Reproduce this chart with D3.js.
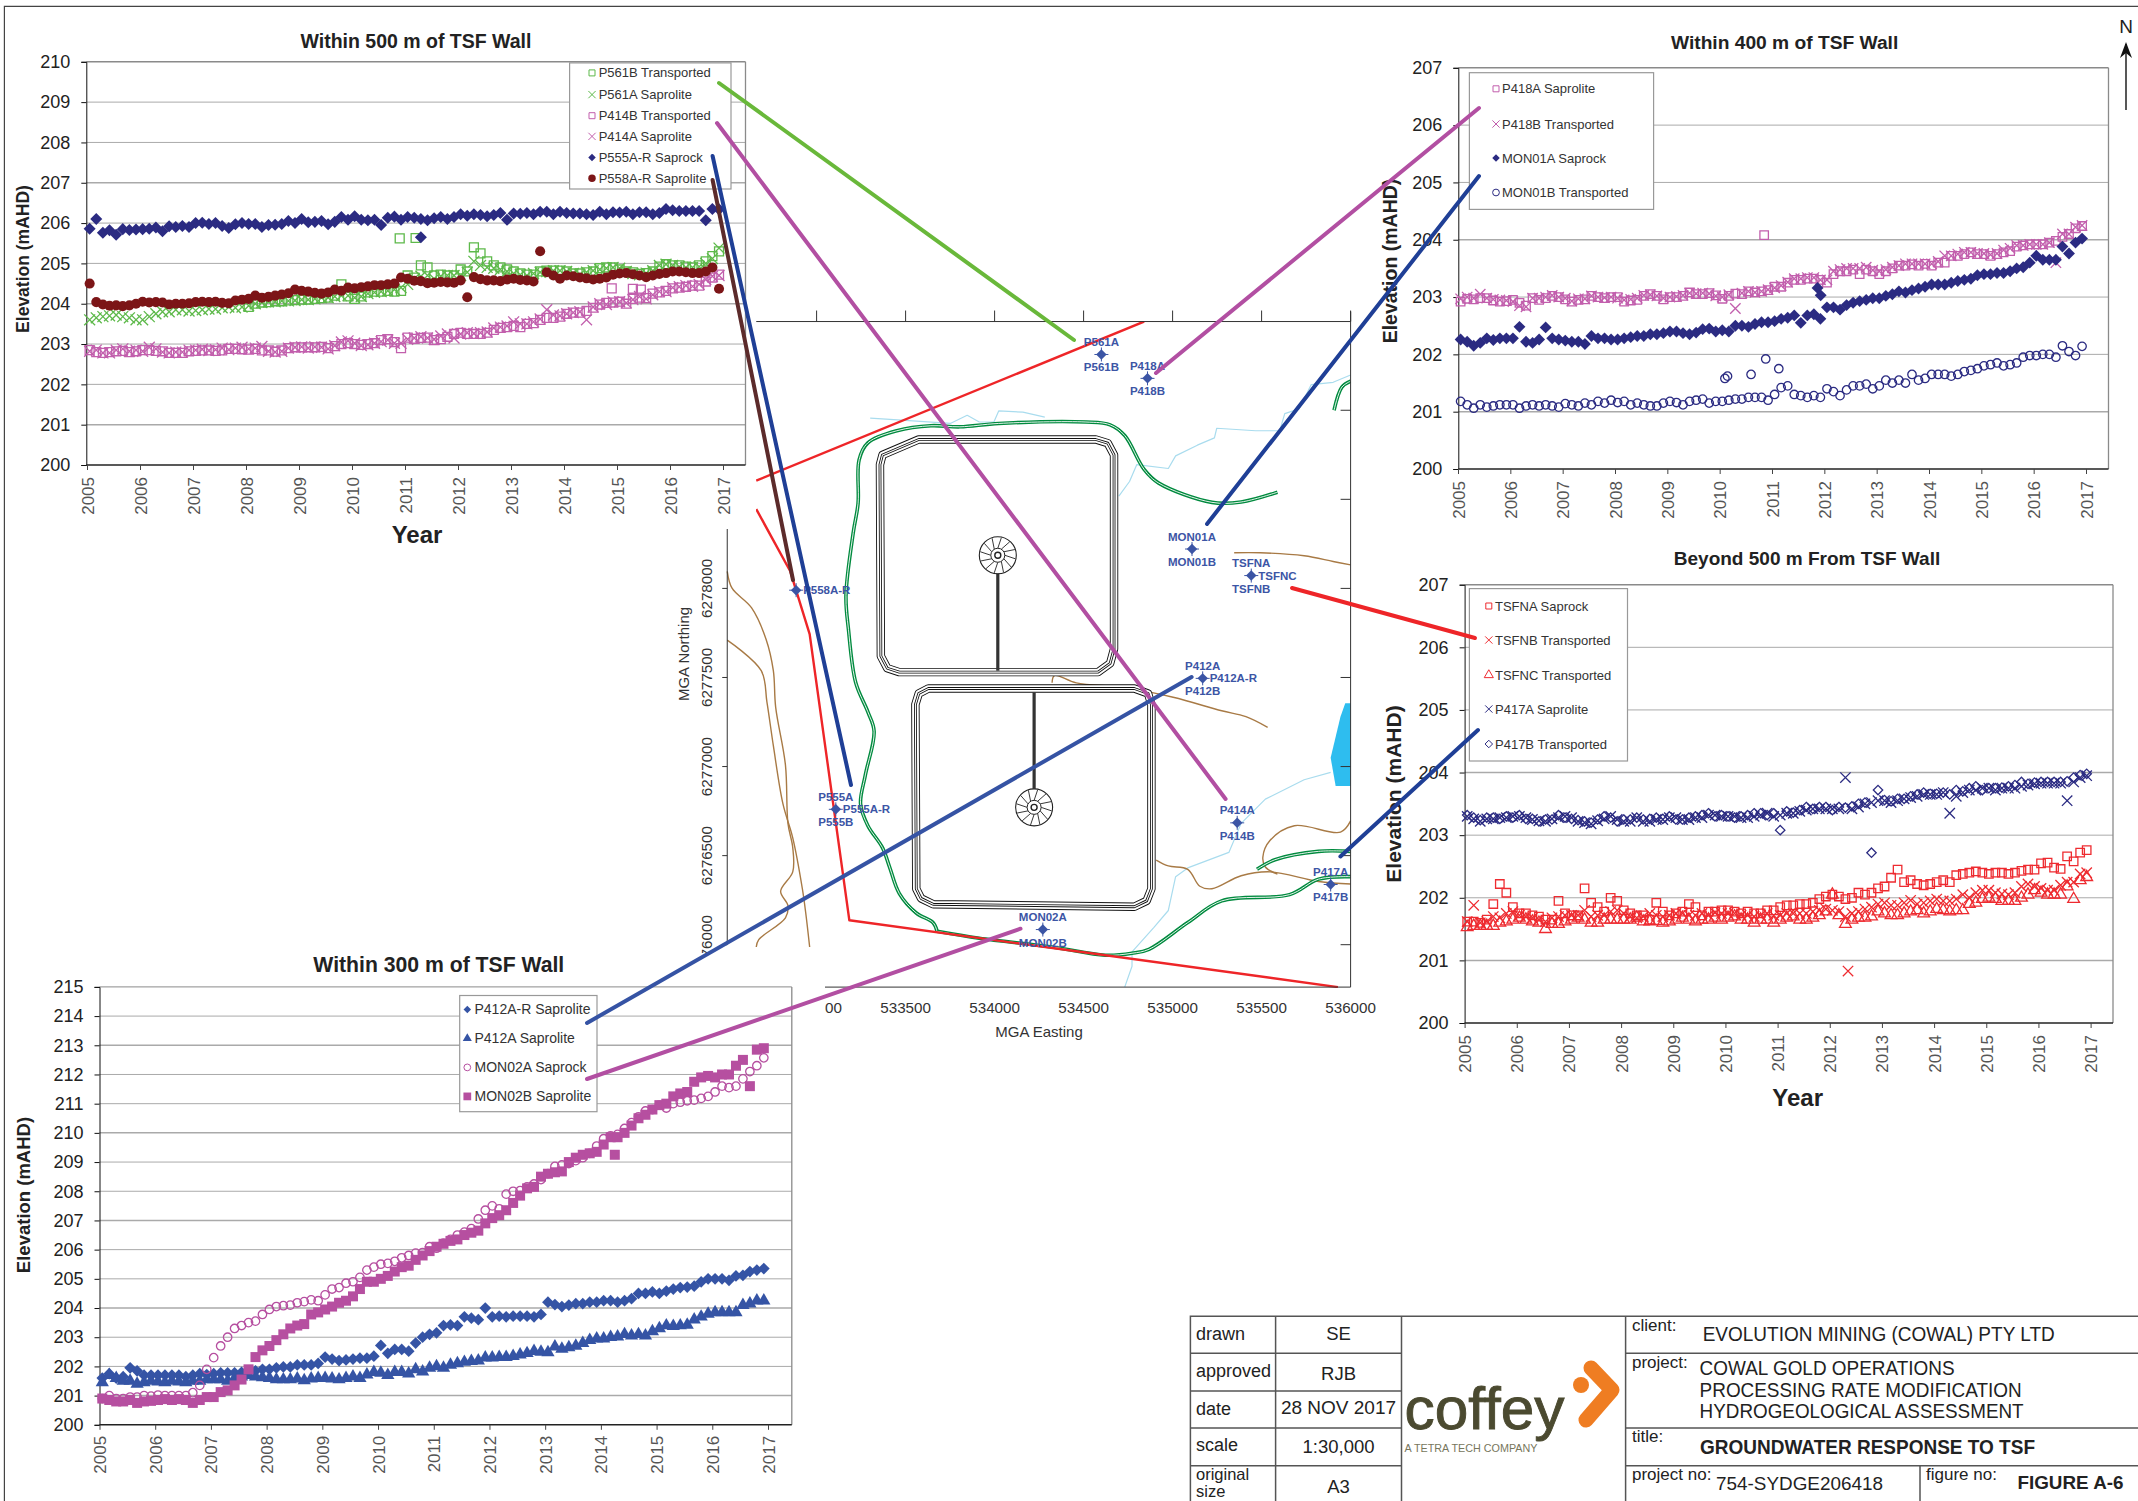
<!DOCTYPE html>
<html><head><meta charset="utf-8">
<script src="https://cdn.jsdelivr.net/npm/d3@7"></script>
<style>html,body{margin:0;background:#fff}svg{display:block}text{font-family:"Liberation Sans",Arial,sans-serif}</style>
</head><body><svg id="c" width="2138" height="1501"></svg>
<script>
// Water levels are centimetres above 200 mAHD, one reading per sampling round (8 per year, 2005-2016).
const obsYears = d3.range(96).map(i => 2005.05 + i / 8);
const yearTicks = d3.range(2005, 2018);

const p561b = [...Array(24).fill(null),
392,400,403,404,406,406,408,409, 410,410,412,414,415,420,448,418, 412,418,428,430,430,432,430,432,
470,465,495,490,470,472,470,470, 485,480,540,525,505,495,490,485, 480,475,472,472,480,482,482,482,
480,475,475,478,480,488,490,490, 485,480,478,474,476,480,492,498, 495,495,492,490,495,505,518,530];
const p561bOut = [[2010.9,562],[2011.2,563]];
const p561a = [360,365,368,370,372,368,365,360, 360,368,375,380,380,385,385,382, 383,385,387,387,390,392,390,392,
395,400,403,405,405,407,407,408, 410,410,412,415,415,418,420,420, 415,418,425,428,430,432,435,440,
448,462,468,470,462,468,470,470, 470,478,505,495,490,488,485,480, 475,472,470,475,478,480,482,482,
480,475,472,478,482,485,488,490, 488,480,475,472,476,482,495,498, 495,492,490,490,492,500,512,538];
const p414b = [285,280,278,280,282,283,280,282, 285,285,283,282,278,278,278,282, 283,284,284,283,284,288,288,287,
286,288,284,284,281,284,290,292, 292,292,292,293,290,295,300,302, 300,298,300,302,310,312,305,290,
316,313,315,316,310,312,318,325, 328,325,325,325,328,335,340,342, 345,342,350,352,360,365,365,368,
375,378,378,382,390,398,402,403, 405,400,412,415,414,425,428,432, 438,440,442,445,445,455,465,472];
const p414bOut = [[2014.9,438],[2015.3,437],[2015.45,435]];
const p414a = [282,285,278,278,285,288,282,285, 282,292,288,280,278,280,280,285, 285,287,284,286,290,286,290,292,
288,290,294,282,280,282,290,292, 293,290,293,292,288,296,305,308, 302,296,298,302,306,310,302,302,
312,315,318,315,312,320,325,315, 325,328,326,328,330,340,342,345, 355,350,350,355,362,385,372,370,
375,378,380,360,392,400,398,405, 405,402,410,418,412,422,430,430, 440,442,445,443,448,460,468,470];
const p555aR = [586,610,576,582,571,585,583,584, 585,586,589,580,592,590,593,590, 600,601,598,600,593,588,597,600,
598,598,590,595,596,598,605,600, 610,602,603,605,597,603,615,608, 617,608,607,608,595,613,616,608,
615,613,610,607,612,615,610,615, 622,618,622,620,617,620,625,608, 624,623,625,622,628,628,622,628,
625,624,624,622,620,628,622,627, 626,628,622,627,627,622,625,635, 632,630,630,630,630,607,635,634];
const p555aROut = [[2011.3,565]];
const p558aR = [450,404,398,395,396,394,396,400, 405,403,404,403,398,400,400,401, 404,405,404,405,402,401,408,410,
412,420,415,417,420,423,426,435, 432,430,427,425,428,435,432,440, 438,441,443,446,446,448,450,465,
462,457,456,451,452,454,453,452, 458,416,466,461,458,458,456,460, 462,459,458,455,530,478,470,462,
470,468,465,463,460,462,465,472, 475,476,473,470,466,470,474,476, 480,480,478,476,476,480,490,437];

const p418a = [292,297,296,298,298,294,292,293, 295,290,285,298,295,298,302,300, 296,292,295,296,302,300,298,300,
300,292,294,295,302,305,302,296, 300,300,302,308,305,305,307,303, 297,302,306,305,310,308,310,312,
318,318,325,330,330,332,332,330, 325,340,345,345,348,340,348,345, 340,345,350,355,355,357,355,358,
355,360,360,372,372,375,378,375, 375,372,375,378,380,388,390,392, 392,392,395,398,405,410,420,424];
const p418aOut = [[2010.85,408]];
const p418b = [297,300,298,305,298,296,295,294, 292,285,283,298,298,300,303,300, 298,293,297,297,302,300,299,300,
298,295,296,298,303,304,302,298, 300,301,303,307,306,307,306,302, 300,304,280,307,310,308,310,313,
316,320,326,332,332,334,334,330, 330,345,348,350,350,350,352,347, 345,348,352,355,358,358,358,358,
358,362,372,372,375,378,378,376, 376,374,376,382,385,390,390,392, 392,392,395,360,410,410,422,425];
const mon01a = [226,222,215,220,228,225,228,228, 228,248,222,220,226,247,228,226, 224,222,222,218,232,228,228,226,
226,228,230,232,232,235,235,237, 240,240,237,235,238,244,245,240, 242,240,250,250,248,253,256,256,
258,262,264,268,255,268,270,262, 282,282,278,286,290,293,295,298, 298,302,305,310,308,312,315,318,
322,322,322,325,328,330,332,338, 340,340,342,342,345,350,352,360, 372,365,365,365,388,376,395,402];
const mon01aOut = [[2011.87,316],[2011.93,303]];
const mon01b = [118,112,106,112,108,110,112,112, 112,106,110,112,110,112,110,108, 114,112,110,115,112,118,115,120,
116,118,112,115,112,110,110,115, 118,116,112,118,120,122,115,118, 118,120,122,122,125,125,125,120,
130,142,145,130,128,125,128,125, 140,135,128,138,145,145,148,140, 145,155,150,155,150,165,155,158,
165,165,165,162,165,170,172,175, 180,182,185,180,182,185,195,198, 198,200,200,195,215,205,198,214];
const mon01bOut = [[2010.1,158],[2010.15,162],[2010.6,165],[2010.88,192],[2011.13,175]];

const tsfna = [162,162,160,165,190,222,208,185, 175,175,172,170,165,165,195,175, 172,172,215,192,185,178,200,195,
180,175,172,172,165,192,178,172, 175,178,190,185,172,178,178,180, 180,178,175,178,175,175,180,180,
185,188,188,190,190,192,198,202, 205,202,198,200,208,205,208,215, 218,232,245,225,228,222,220,222,
225,228,225,236,238,240,242,240, 238,240,240,238,240,243,245,245, 255,256,248,246,266,258,272,276];
const tsfnb = [162,188,160,162,170,168,175,178, 172,170,168,165,162,168,170,172, 172,172,180,170,172,172,178,180,
175,170,168,170,175,172,170,172, 175,175,172,172,175,172,176,175, 175,175,172,172,170,172,175,172,
172,175,175,175,175,178,180,182, 180,178,170,175,178,182,185,190, 192,188,188,192,196,190,192,195,
198,195,195,198,205,200,208,212, 212,208,206,205,208,218,222,218, 215,212,212,220,225,225,238,240];
const tsfnbOut = [[2012.35,83]];
const tsfnc = [153,155,155,155,155,160,162,165, 168,165,162,160,150,158,158,162, 165,168,165,160,160,165,165,165,
165,165,168,162,162,163,160,162, 165,168,165,162,165,165,168,165, 168,170,165,165,160,165,165,160,
165,168,170,165,165,168,172,178, 205,172,158,165,168,168,170,178, 175,172,172,175,178,180,175,178,
182,180,178,180,180,190,192,198, 200,198,195,195,195,200,205,212, 208,205,205,205,218,198,228,233];
const p417a = [330,326,322,326,326,328,328,330, 330,328,325,323,322,326,328,330, 328,322,320,318,323,326,330,325,
322,322,328,322,322,325,325,328, 328,325,325,328,328,332,332,330, 330,330,328,328,330,332,335,330,
332,335,335,338,340,342,342,342, 342,342,392,342,345,350,352,355, 355,352,355,358,360,362,365,365,
365,368,335,362,368,372,372,375, 375,372,375,375,375,378,380,382, 383,383,383,383,355,385,392,395];
const p417b = [332,328,324,328,328,326,330,328, 332,326,326,322,325,325,332,328, 326,324,322,320,325,330,328,322,
325,325,328,325,326,328,326,330, 325,325,328,330,332,335,330,332, 330,328,330,332,335,335,332,335,
308,338,336,340,345,342,345,345, 340,345,344,346,350,352,272,372, 356,354,358,358,362,365,368,366,
366,368,365,372,370,375,378,372, 375,375,376,378,380,385,382,384, 385,385,385,385,386,392,396,398];

const p412aR = [160,175,160,165,195,185,170,170, 170,170,170,170,165,170,175,172, 175,178,178,178,180,185,185,190,
190,195,198,198,205,205,205,210, 232,225,220,222,225,228,228,235, 272,245,258,258,252,280,300,310,
315,340,342,340,370,365,360,400, 370,372,370,372,372,372,370,378, 420,412,405,410,415,415,420,420,
425,425,420,425,432,450,450,455, 450,458,465,470,472,475,490,500, 500,500,495,510,512,525,530,535];
const p412a = [145,170,160,150,150,140,145,150, 148,145,150,148,145,150,150,155, 155,155,150,160,165,170,165,162,
160,155,155,155,158,152,158,160, 160,158,155,160,165,160,172,180, 178,170,180,180,175,190,182,195,
200,195,205,210,215,218,220,230, 230,232,232,235,240,245,252,250, 248,268,260,265,270,280,290,295,
295,300,302,310,305,310,305,320, 330,340,338,340,342,360,370,380, 385,385,385,385,410,415,425,425];
const mon02a = [90,100,90,90,95,95,100,98, 102,100,100,100,100,110,135,190, 230,270,300,330,340,350,355,378,
395,405,408,410,418,422,428,425, 445,465,470,485,490,505,530,540, 550,553,560,572,580,588,590,610,
605,622,635,650,660,672,705,735, 750,740,790,800,802,815,825,840, 860,885,890,895,905,915,930,955,
980,990,995,1015,1035,1055,1075,1080, 1095,1085,1100,1105,1110,1112,1118,1125, 1140,1160,1155,1160,1185,1210,1230,1257];
const mon02b = [90,85,80,80,85,75,80,82, 85,88,85,88,85,75,85,95, 95,112,118,135,155,190,232,255,
270,290,310,330,340,345,378,385, 395,405,418,425,440,465,490,490, 500,510,525,540,545,565,580,595,
610,620,630,635,650,658,665,690, 708,718,735,760,785,810,815,850, 860,865,868,900,915,925,930,935,
960,985,985,1000,1025,1050,1062,1080, 1095,1100,1125,1135,1140,1175,1190,1195, 1190,1200,1200,1230,1250,1160,1285,1290];
const mon02bOut = [[2014.25,925]];

// Map features: metres east of 533000 E, metres north of 6276000 N.
const leaseNorth = [[1840,3498],[-339,2605]];
const leaseSouth = [[-339,2445],[-148,2096],[-39,1743],[184,137],[2929,-238]];
const tsfNorthCell = [[574,2836],[1568,2836],[1636,2815],[1671,2749],[1671,1661],[1649,1579],[1581,1530],[465,1530],[397,1552],[361,1620],[356,2695],[370,2749]];
const tsfSouthCell = [[628,1438],[1785,1438],[1862,1410],[1881,1348],[1881,314],[1854,246],[1785,213],[655,227],[587,260],[560,314],[555,1348],[574,1410]];
const decants = [[1018,2186],[1222,771]];
const decantCauseways = [[[1018,2186],[1018,1538]],[[1222,1416],[1222,771]]];
const channelMain = [[677,75],[655,123],[560,178],[465,287],[410,436],[370,545],[288,668],[247,790],[274,953],[323,1198],[288,1307],[220,1470],[179,1770],[165,1960],[206,2314],[233,2477],[239,2722],[288,2817],[451,2885],[642,2913],[805,2907],[1023,2926],[1513,2934],[1649,2918],[1731,2858],[1840,2668],[1922,2591],[2221,2483],[2385,2485],[2589,2540]];
const channelSouth = [[677,75],[914,36],[1323,-13],[1622,-59],[1772,-48],[1867,-26],[2085,124],[2276,246],[2657,281],[2820,368],[3000,382]];
const channelEast = [[2474,423],[2575,477],[2820,524],[3000,524]];
const channelNE = [[2907,3000],[2951,3130],[3000,3163]];
const creekA = [[301,2956],[478,2945],[751,2926],[846,2972],[914,2934],[996,2934],[1023,2996],[1159,2989],[1282,2961]];
const creekB = [[1698,2518],[1758,2600],[1799,2695],[1976,2673],[2017,2744],[2139,2804],[2235,2845],[2248,2899],[2466,2885],[2602,2885],[2630,2981],[2711,3008],[2779,3144],[2902,3157],[3000,3198]];
const creekC = [[1731,-238],[1772,-121],[1772,-40],[1894,96],[1976,192],[2017,382],[2085,431],[2316,518],[2385,681],[2521,817],[2739,926],[2888,967]];
const drainA = [[-502,2096],[-475,2001],[-366,1892],[-284,1715],[-243,1538],[-230,1334],[-175,1008],[-161,681],[-134,545],[-134,409],[-202,300],[-161,219],[-175,151],[-325,28],[-339,-13]];
const drainB = [[-502,1710],[-311,1538],[-279,1362],[-243,1117],[-189,790],[-134,600],[-80,314],[-61,178],[-39,-13]];
const drainC = [[2346,2200],[2493,2200],[2739,2183],[2902,2151],[3000,2132]];
const drainD = [[1323,1470],[1336,1511],[1459,1470],[1731,1443],[2003,1389],[2276,1313],[2412,1280],[2534,1220]];
const drainE = [[1908,475],[1976,442],[2085,423],[2153,328],[2221,314],[2385,387],[2548,409],[2820,355],[3000,341]];
const drainF = [[2589,396],[2521,436],[2507,491],[2548,586],[2684,668],[2943,632],[3000,695]];
const lake = [[2970,1356],[3000,1356],[3000,891],[2916,891],[2888,1049],[2943,1280]];
const boreE = [1600,1859,2109,2442,2169,-115,108,2363,2888,1271];
const boreN = [3313,3179,2221,2072,1495,1990,760,684,338,85];
const boreAbove = ["P561A","P418A","MON01A","TSFNA","P412A","","P555A","P414A","P417A","MON02A"];
const boreBelow = ["P561B","P418B","MON01B","TSFNB","P412B","","P555B","P414B","P417B","MON02B"];
const boreRight = ["","","","TSFNC","P412A-R","P558A-R","P555A-R","","",""];
const eastingTicks = [533000,533500,534000,534500,535000,535500,536000];
const northingTicks = [6276000,6276500,6277000,6277500,6278000];

const svg = d3.select("#c");
const txt = (g, x, y, s, size, o = {}) => {
  const t = g.append("text").attr("x", x).attr("y", y).text(s).attr("font-size", size)
    .attr("fill", o.fill || "#222").attr("text-anchor", o.anchor || "start");
  if (o.bold) t.attr("font-weight", "bold");
  if (o.len) t.attr("textLength", o.len).attr("lengthAdjust", "spacingAndGlyphs");
  if (o.rot != null) t.attr("transform", `rotate(${o.rot} ${x} ${y})`);
  return t;
};

/* ---------- map ---------- */
const mapX = d3.scaleLinear([0, 3000], [816.6, 1350.6]);
const mapY = d3.scaleLinear([0, 2000], [944.7, 588.4]);
const mapLine = d3.line().x(d => mapX(d[0])).y(d => mapY(d[1]));
const mapG = svg.append("g");
svg.append("defs").append("clipPath").attr("id", "mapClip").append("rect")
  .attr("x", 700).attr("y", 321).attr("width", 651).attr("height", 667);
const mapC = mapG.append("g").attr("clip-path", "url(#mapClip)");
const smooth = d3.line().x(d => mapX(d[0])).y(d => mapY(d[1])).curve(d3.curveCatmullRom.alpha(0.5));
const drawPath = (d, fn, st, w, fill) => mapC.append("path").attr("d", fn(d)).attr("fill", fill || "none").attr("stroke", st).attr("stroke-width", w).attr("stroke-linejoin", "round");

mapC.append("path").attr("d", mapLine(lake) + "Z").attr("fill", "#2ebdef");
[creekA, creekB, creekC].forEach(c => drawPath(c, mapLine, "#a9dcee", 1.2));
[drainA, drainB, drainC, drainD, drainE, drainF].forEach(c => drawPath(c, smooth, "#a87a45", 1.4));
[channelMain, channelSouth, channelEast, channelNE].forEach(c => {
  drawPath(c, smooth, "#008a3e", 3.6);
  drawPath(c, smooth, "#fff", 0.9);
});
const closedLine = d3.line().x(d => mapX(d[0])).y(d => mapY(d[1])).curve(d3.curveLinearClosed);
[tsfNorthCell, tsfSouthCell].forEach(c => {
  [[8.4, "#111"], [6.6, "#fff"], [2.8, "#111"], [1.1, "#fff"]].forEach(([w, s]) => drawPath(c, closedLine, s, w));
});
decantCauseways.forEach(c => drawPath(c, mapLine, "#333", 3.2));
decants.forEach(d => {
  const g = mapC.append("g").attr("transform", `translate(${mapX(d[0])},${mapY(d[1])})`);
  g.append("circle").attr("r", 18.5).attr("fill", "#fff").attr("stroke", "#222").attr("stroke-width", 1.1);
  d3.range(12).forEach(i => {
    const a = i * Math.PI / 6;
    g.append("line").attr("x1", 7 * Math.cos(a)).attr("y1", 7 * Math.sin(a)).attr("x2", 18 * Math.cos(a + .2)).attr("y2", 18 * Math.sin(a + .2)).attr("stroke", "#222").attr("stroke-width", .9);
  });
  g.append("circle").attr("r", 7).attr("fill", "#fff").attr("stroke", "#222").attr("stroke-width", 1);
  g.append("circle").attr("r", 3).attr("fill", "none").attr("stroke", "#222").attr("stroke-width", 1.4);
});
drawPath(leaseNorth, mapLine, "#ee2528", 2.4);
drawPath(leaseSouth, mapLine, "#ee2528", 2.4);

boreE.forEach((e, i) => {
  const x = mapX(e), y = mapY(boreN[i]), c = "#3c55a5";
  mapC.append("path").attr("d", d3.symbol(d3.symbolDiamond2, 70)()).attr("transform", `translate(${x},${y})`).attr("fill", c);
  mapC.append("path").attr("d", `M${x - 7},${y}H${x + 7}M${x},${y - 7}V${y + 7}`).attr("stroke", c).attr("stroke-width", 1);
  if (boreAbove[i]) txt(mapC, x, y - 8.5, boreAbove[i], 11.5, { bold: true, fill: c, anchor: "middle" });
  if (boreBelow[i]) txt(mapC, x, y + 17, boreBelow[i], 11.5, { bold: true, fill: c, anchor: "middle" });
  if (boreRight[i]) txt(mapC, x + 7, y + 4, boreRight[i], 11.5, { bold: true, fill: c });
});
// map frame and graticule
const frameC = "#333";
const axisL = mapX(-339), topY = mapY(3498), botY = mapY(-238), rightX = mapX(3000);
mapG.append("path").attr("d", `M${axisL},${topY}H${rightX}V${topY - 10}V${botY}H${mapX(0)}`).attr("fill", "none").attr("stroke", frameC);
mapG.append("path").attr("d", `M${mapX(-502)},529V${mapY(0)}`).attr("stroke", frameC).attr("fill", "none");
eastingTicks.forEach(t => {
  const x = mapX(t - 533000);
  mapG.append("path").attr("d", `M${x},${topY}v-11`).attr("stroke", frameC);
  txt(mapG, x, 1012.5, t, 15.2, { anchor: "middle", fill: "#333" });
});
[0, 500, 1000, 1500, 2000, 2500, 3000].forEach(n => {
  mapG.append("path").attr("d", `M${rightX},${mapY(n)}h-10`).attr("stroke", frameC);
});
northingTicks.forEach(t => {
  const y = mapY(t - 6276000);
  mapG.append("path").attr("d", `M${mapX(-502)},${y}h-5`).attr("stroke", frameC);
  txt(mapG, 712, y, t, 15.2, { anchor: "middle", fill: "#333", rot: -90 });
});
txt(mapG, 1039, 1037, "MGA Easting", 15, { anchor: "middle", fill: "#333" });
txt(mapG, 689, 654, "MGA Northing", 15, { anchor: "middle", fill: "#333", rot: -90 });

// white panels that the reference chart boxes lay over the map
svg.append("rect").attr("x", 0).attr("y", 0).attr("width", 756).attr("height", 525).attr("fill", "#fff");
svg.append("rect").attr("x", 0).attr("y", 953).attr("width", 825).attr("height", 548).attr("fill", "#fff");

/* ---------- charts ---------- */
const symbols = { square: d3.symbolSquare, x: d3.symbolTimes, diamond: d3.symbolDiamond2, circle: d3.symbolCircle, triangle: d3.symbolTriangle };
const purple = "#c25fad", green = "#5db94a", navy = "#2b2b82", maroon = "#7c1517", red = "#ee2b30", blue = "#3554a5", mag = "#b64fa0";
function makeChart(cfg) {
  const g = svg.append("g");
  const x = d3.scaleLinear([2005, 2017], [cfg.x0, cfg.x1]);
  const y = d3.scaleLinear(cfg.domain, [cfg.bottom, cfg.top]);
  const ticks = d3.range(cfg.domain[0], cfg.domain[1] + 1);
  g.append("g").selectAll("line").data(ticks.slice(1)).join("line")
    .attr("x1", cfg.left).attr("x2", cfg.right).attr("y1", y).attr("y2", y)
    .attr("stroke", (d, i) => i === ticks.length - 2 ? "#8a8a8a" : "#aaa").attr("stroke-width", (d, i) => (i * 7) % 3 === 0 ? 1.5 : 1);
  g.append("line").attr("x1", cfg.right).attr("x2", cfg.right).attr("y1", cfg.top).attr("y2", cfg.bottom).attr("stroke", "#8a8a8a").attr("stroke-width", 1.3);
  const ya = g.append("g").attr("transform", `translate(${cfg.left},0)`).call(d3.axisLeft(y).tickValues(ticks).tickFormat(d3.format("d")).tickSize(5).tickPadding(11));
  ya.selectAll("text").attr("font-size", 18).attr("fill", "#222").attr("font-family", "Liberation Sans");
  ya.selectAll("path,line").attr("stroke", "#111");
  const xa = g.append("g").attr("transform", `translate(0,${cfg.bottom})`).call(d3.axisBottom(x).tickValues(yearTicks).tickFormat(d3.format("d")).tickSize(5));
  xa.select("path").attr("d", `M${cfg.left},0H${cfg.right}`).attr("stroke", "#222").attr("stroke-width", 1.4);
  xa.selectAll("line").attr("stroke", "#444");
  xa.selectAll("text").attr("font-size", 17).attr("fill", "#555").attr("font-family", "Liberation Sans")
    .attr("text-anchor", "end").attr("dy", 0).attr("x", 0).attr("y", 0)
    .attr("transform", `translate(6,${cfg.xLabelGap}) rotate(-90)`);
  cfg.series.forEach(s => {
    const pts = s.vals.map((v, i) => [obsYears[i], v]).filter(d => d[1] != null).concat(s.out || []);
    g.append("g").selectAll("path").data(pts).join("path")
      .attr("d", d3.symbol(symbols[s.sym], s.size)())
      .attr("transform", d => `translate(${x(d[0])},${y(cfg.domain[0] + d[1] / 100)})`)
      .attr("fill", s.filled ? s.color : "none").attr("stroke", s.filled ? "none" : s.color).attr("stroke-width", s.filled ? 0 : 1.3);
  });
  // legend
  const L = cfg.legend;
  g.append("rect").attr("x", L.x0).attr("y", L.y0).attr("width", L.x1 - L.x0).attr("height", L.y1 - L.y0).attr("fill", "#fff").attr("stroke", "#999").attr("stroke-width", 1.2);
  cfg.series.forEach((s, i) => {
    g.append("path").attr("d", d3.symbol(symbols[s.sym], s.legendSize || 36)())
      .attr("transform", `translate(${L.sym},${L.ys[i]})`)
      .attr("fill", s.filled ? s.color : "none").attr("stroke", s.filled ? "none" : s.color).attr("stroke-width", s.filled ? 0 : 1);
    txt(g, L.text, L.ys[i] + 4.5, s.name, L.size || 13, { fill: "#333" });
  });
  txt(g, cfg.title[1], cfg.title[2], cfg.title[0], cfg.title[3], { bold: true, anchor: "middle" });
  txt(g, cfg.ylab[0], cfg.ylab[1], "Elevation (mAHD)", cfg.ylab[2], { bold: true, anchor: "middle", rot: -90 });
  if (cfg.year) txt(g, cfg.year[0], cfg.year[1], "Year", 24, { bold: true, anchor: "middle" });
}

makeChart({ x0: 87, x1: 723, left: 86.3, right: 745.5, top: 61.8, bottom: 465, domain: [200, 210], xLabelGap: 12,
  title: ["Within 500 m of TSF Wall", 416, 48, 19.5], ylab: [29, 259, 17.5], year: [417, 543],
  legend: { x0: 569.6, x1: 731, y0: 62.9, y1: 189, sym: 592, text: 598.7, ys: [72.9, 94.6, 115.7, 136.4, 157.5, 178.2] },
  series: [
    { name: "P561B Transported", vals: p561b, out: p561bOut, sym: "square", color: green, size: 80 },
    { name: "P561A Saprolite", vals: p561a, sym: "x", color: green, size: 80 },
    { name: "P414B Transported", vals: p414b, out: p414bOut, sym: "square", color: purple, size: 80 },
    { name: "P414A Saprolite", vals: p414a, sym: "x", color: purple, size: 80 },
    { name: "P555A-R Saprock", vals: p555aR, out: p555aROut, sym: "diamond", color: navy, size: 92, filled: true },
    { name: "P558A-R Saprolite", vals: p558aR, sym: "circle", color: maroon, size: 80, filled: true, legendSize: 44 }
  ] });
makeChart({ x0: 1458, x1: 2086, left: 1458.3, right: 2108.5, top: 67.8, bottom: 469, domain: [200, 207], xLabelGap: 12,
  title: ["Within 400 m of TSF Wall", 1784.6, 49, 19.2], ylab: [1397, 261, 19.5],
  legend: { x0: 1469.4, x1: 1653.6, y0: 72.7, y1: 209.4, sym: 1496, text: 1502, ys: [88.8, 124, 158, 192.5] },
  series: [
    { name: "P418A Saprolite", vals: p418a, out: p418aOut, sym: "square", color: purple, size: 72 },
    { name: "P418B Transported", vals: p418b, sym: "x", color: purple, size: 72 },
    { name: "MON01A Saprock", vals: mon01a, out: mon01aOut, sym: "diamond", color: navy, size: 90, filled: true },
    { name: "MON01B Transported", vals: mon01b, out: mon01bOut, sym: "circle", color: navy, size: 56 }
  ] });
makeChart({ x0: 1464.6, x1: 2090.6, left: 1464.6, right: 2113, top: 584.7, bottom: 1023, domain: [200, 207], xLabelGap: 12,
  title: ["Beyond 500 m From TSF Wall", 1807, 565, 19], ylab: [1401, 794, 21], year: [1797.7, 1106],
  legend: { x0: 1469.4, x1: 1627.5, y0: 588.6, y1: 761, sym: 1488.8, text: 1495, ys: [606, 640, 675, 709, 744] },
  series: [
    { name: "TSFNA Saprock", vals: tsfna, sym: "square", color: red, size: 72 },
    { name: "TSFNB Transported", vals: tsfnb, out: tsfnbOut, sym: "x", color: red, size: 72 },
    { name: "TSFNC Transported", vals: tsfnc, sym: "triangle", color: red, size: 60 },
    { name: "P417A Saprolite", vals: p417a, sym: "x", color: navy, size: 72 },
    { name: "P417B Transported", vals: p417b, sym: "diamond", color: navy, size: 56 }
  ] });
makeChart({ x0: 99.5, x1: 768, left: 99.5, right: 791.8, top: 986.9, bottom: 1424.8, domain: [200, 215], xLabelGap: 11,
  title: ["Within 300 m of TSF Wall", 438.8, 971.5, 21.2], ylab: [30, 1195, 18.5],
  legend: { x0: 459.7, x1: 597, y0: 995.5, y1: 1111.7, sym: 467.3, text: 474.5, size: 14, ys: [1009.4, 1038.4, 1067.4, 1096.4] },
  series: [
    { name: "P412A-R Saprolite", vals: p412aR, sym: "diamond", color: blue, size: 88, filled: true },
    { name: "P412A Saprolite", vals: p412a, sym: "triangle", color: blue, size: 76, filled: true },
    { name: "MON02A Saprock", vals: mon02a, sym: "circle", color: mag, size: 56 },
    { name: "MON02B Saprolite", vals: mon02b, out: mon02bOut, sym: "square", color: mag, size: 100, filled: true, legendSize: 60 }
  ] });

/* ---------- callout leaders ---------- */
const leaders = [
  [719, 83, 1074, 340, "#69b83a"], [717, 123, 1225.6, 799, "#b24fa2"], [712.6, 156, 851, 785, "#1f3f96"],
  [712.6, 180, 793, 580, "#5c2b2b"], [1479, 108, 1156, 373, "#b24fa2"], [1479, 176, 1207, 524, "#1f3f96"],
  [1475, 638, 1292, 588, "#ee2528"], [1478, 730, 1340.4, 856.5, "#1f3f96"], [1191.6, 677, 587, 1023, "#3553a4"],
  [1020.5, 928.7, 587, 1079, "#b24fa2"]
];
svg.append("g").selectAll("line").data(leaders).join("line")
  .attr("x1", d => d[0]).attr("y1", d => d[1]).attr("x2", d => d[2]).attr("y2", d => d[3])
  .attr("stroke", d => d[4]).attr("stroke-width", 4).attr("stroke-linecap", "round");

/* ---------- sheet frame, north arrow, title block ---------- */
const f = svg.append("g");
f.append("path").attr("d", "M2138,6.4H4.4V1501").attr("fill", "none").attr("stroke", "#444").attr("stroke-width", 1.2);
txt(f, 2126, 33, "N", 19, { anchor: "middle", fill: "#222" });
f.append("path").attr("d", "M2126,110V44").attr("stroke", "#111").attr("stroke-width", 1.4);
f.append("path").attr("d", "M2126,42L2120,58L2126,53L2132,58Z").attr("fill", "#111");

const tb = svg.append("g");
tb.append("path").attr("fill", "none").attr("stroke", "#555").attr("stroke-width", 1.5)
  .attr("d", "M1190.4,1501V1316.3H2138M1275.6,1316.3V1501M1401.5,1316.3V1501M1625.6,1316.3V1501M1920,1465.7V1501" +
    "M1190.4,1353.3H1401.5M1190.4,1391H1401.5M1190.4,1428H1401.5M1190.4,1465.7H1401.5" +
    "M1625.6,1353.3H2138M1625.6,1428H2138M1625.6,1465.7H2138");
[["drawn", 1340], ["approved", 1377], ["date", 1415], ["scale", 1451]].forEach(d => txt(tb, 1196, d[1], d[0], 18));
txt(tb, 1196, 1480, "original", 16.5); txt(tb, 1196, 1497, "size", 16.5);
[["SE", 1340], ["RJB", 1380], ["28 NOV 2017", 1414], ["1:30,000", 1453], ["A3", 1493]].forEach(d => txt(tb, 1338.5, d[1], d[0], d[0].length > 8 ? 19 : 18.5, { anchor: "middle" }));
txt(tb, 1632, 1331, "client:", 17); txt(tb, 1632, 1368, "project:", 17); txt(tb, 1632, 1442, "title:", 17);
txt(tb, 1632, 1480, "project no:", 17); txt(tb, 1926, 1480, "figure no:", 17);
txt(tb, 1702.7, 1341, "EVOLUTION MINING (COWAL) PTY LTD", 21, { len: 352 });
txt(tb, 1699.6, 1375, "COWAL GOLD OPERATIONS", 21, { len: 255 });
txt(tb, 1699.6, 1396.7, "PROCESSING RATE MODIFICATION", 21, { len: 322 });
txt(tb, 1699.6, 1418, "HYDROGEOLOGICAL ASSESSMENT", 21, { len: 324 });
txt(tb, 1700, 1454, "GROUNDWATER RESPONSE TO TSF", 20, { bold: true, len: 335 });
txt(tb, 1716, 1490, "754-SYDGE206418", 19, { len: 167 });
txt(tb, 2017.5, 1489, "FIGURE A-6", 17.5, { bold: true, len: 106 });
txt(tb, 1404.5, 1429, "coffey", 60, { fill: "#4b4a30", len: 160 }).attr("stroke", "#4b4a30").attr("stroke-width", .9);
txt(tb, 1404.5, 1452, "A TETRA TECH COMPANY", 11, { fill: "#77765c", len: 133 });
tb.append("path").attr("d", "M1591,1368L1612,1390L1586,1420").attr("fill", "none").attr("stroke", "#ef7d22").attr("stroke-width", 15).attr("stroke-linecap", "round").attr("stroke-linejoin", "round");
tb.append("circle").attr("cx", 1581).attr("cy", 1385).attr("r", 8).attr("fill", "#ef7d22");
</script></body></html>
